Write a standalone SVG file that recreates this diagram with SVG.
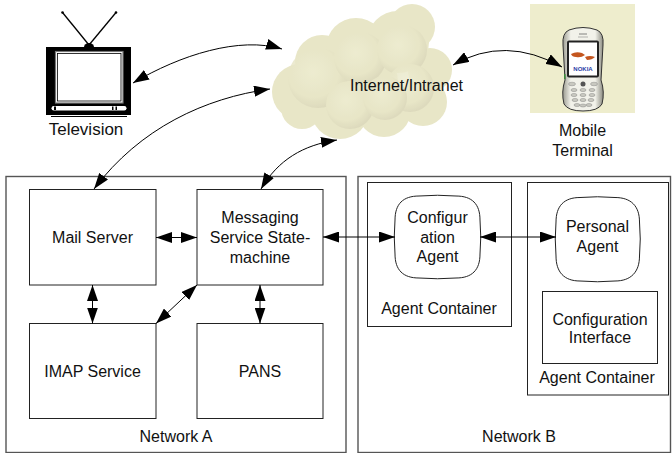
<svg xmlns="http://www.w3.org/2000/svg" width="672" height="453" viewBox="0 0 672 453">
  <style>
    .lbl { font-family: "Liberation Sans", Arial, sans-serif; font-size: 16px; fill: #111; text-anchor: middle; }
    .box { fill: #fff; stroke: #222; stroke-width: 1; }
    .net { fill: #fff; stroke: #555; stroke-width: 1.4; }
    .conn { fill: none; stroke: #000; stroke-width: 1; marker-start: url(#ah); marker-end: url(#ah); }
    .base { fill: #E8E6C7; }
    .puff { fill: url(#puffGrad); }
  </style>
  <defs>
    <marker id="ah" viewBox="0 0 16 11" refX="16" refY="5.5" markerWidth="16" markerHeight="11" markerUnits="userSpaceOnUse" orient="auto-start-reverse">
      <path d="M0,0 L16,5.5 L0,11 Z" fill="#000"/>
    </marker>
    <radialGradient id="puffGrad" cx="0.42" cy="0.4" r="0.6">
      <stop offset="0" stop-color="#EEEDD2" stop-opacity="1"/>
      <stop offset="0.7" stop-color="#E8E6C7" stop-opacity="1"/>
      <stop offset="1" stop-color="#DCD9BC" stop-opacity="1"/>
    </radialGradient>
    <linearGradient id="phoneBody" x1="0" y1="0" x2="1" y2="0">
      <stop offset="0" stop-color="#9a9a90"/>
      <stop offset="0.2" stop-color="#f2f2ea"/>
      <stop offset="0.8" stop-color="#f2f2ea"/>
      <stop offset="1" stop-color="#8a8a80"/>
    </linearGradient>
  </defs>

  <!-- network containers -->
  <g id="network-a">
    <rect class="net" x="6" y="176.5" width="340" height="276"/>
    <text class="lbl" x="176" y="441.5">Network A</text>
  </g>
  <g id="network-b">
    <rect class="net" x="358" y="176.5" width="312.5" height="276"/>
    <text class="lbl" x="519" y="441.5">Network B</text>
  </g>

  <!-- television -->
  <g id="television">
    <line x1="62.5" y1="12.5" x2="89" y2="45" stroke="#000" stroke-width="1.3"/>
    <line x1="116" y1="12.5" x2="89" y2="45" stroke="#000" stroke-width="1.3"/>
    <circle cx="62.5" cy="12.5" r="1.3" fill="#000"/>
    <circle cx="116" cy="12.5" r="1.3" fill="#000"/>
    <path d="M84,47 A5,4 0 0 1 94,47 Z" fill="#000"/>
    <rect x="46" y="47" width="85" height="68" fill="#000"/>
    <rect x="55.5" y="51.5" width="67.5" height="51.5" fill="#fff" stroke="#777" stroke-width="1.2"/>
    <rect x="57.5" y="53.5" width="63.5" height="47.5" fill="#fff" stroke="#000" stroke-width="0.8"/>
    <rect x="51.5" y="106" width="75" height="4.5" rx="2.2" fill="#fff"/>
    <rect x="54" y="106.5" width="2" height="3.5" fill="#000"/>
    <rect x="112" y="106.5" width="1.5" height="3.5" fill="#000"/>
    <rect x="115.5" y="106.5" width="1.5" height="3.5" fill="#000"/>
    <line x1="51" y1="116.5" x2="127" y2="116.5" stroke="#000" stroke-width="1"/>
    <text class="lbl" x="86" y="135" style="font-size:17px">Television</text>
  </g>

  <!-- cloud: flat silhouette with softly shaded puffs on top -->
  <g id="internet">
    <g class="base">
      <circle cx="300" cy="92" r="28"/>
      <circle cx="322" cy="62" r="27"/>
      <circle cx="356" cy="48" r="30"/>
      <circle cx="398" cy="42" r="31"/>
      <circle cx="412" cy="27" r="23"/>
      <circle cx="430" cy="70" r="22"/>
      <circle cx="423" cy="102" r="24"/>
      <circle cx="384" cy="110" r="27"/>
      <circle cx="340" cy="110" r="29"/>
      <circle cx="302" cy="108" r="21"/>
      <circle cx="362" cy="82" r="36"/>
    </g>
    <g class="puff" opacity="0.85">
      <circle cx="318" cy="78" r="30"/>
      <circle cx="360" cy="58" r="26"/>
      <circle cx="402" cy="50" r="25"/>
      <circle cx="410" cy="88" r="24"/>
      <circle cx="350" cy="105" r="24"/>
      <circle cx="385" cy="98" r="22"/>
    </g>
    <text class="lbl" x="406.5" y="90.5">Internet/Intranet</text>
  </g>

  <!-- mobile terminal -->
  <g id="mobile-terminal">
    <rect x="530" y="4" width="105" height="109" fill="#EEEDCD"/>
    <path d="M569,30 Q583,25 597,30 Q604,33 603,45 L601,80 Q605,92 602,104 Q598,111 583,111 Q568,111 564,104 Q561,92 565,80 L563,45 Q562,33 569,30 Z" fill="url(#phoneBody)" stroke="#333" stroke-width="1"/>
    <line x1="579" y1="34" x2="587" y2="34" stroke="#666" stroke-width="0.8"/>
    <line x1="578" y1="37" x2="588" y2="37" stroke="#888" stroke-width="0.6"/>
    <rect x="567" y="40.5" width="32" height="37" rx="2" fill="#222"/>
    <rect x="569" y="42.5" width="28" height="33" fill="#fff"/>
    <path d="M571,54 Q576,51 582,53 L585,55 Q581,58 576,57 Q572,57 571,54 Z" fill="#C4561F"/>
    <path d="M585,57 Q590,55 595,57 Q592,60 587,60 Z" fill="#C4561F"/>
    <text x="583" y="71" style="font-family:'Liberation Sans',Arial,sans-serif;font-size:6px;font-weight:bold;fill:#2B3DA8;text-anchor:middle">NOKIA</text>
    <circle cx="583" cy="84" r="2.5" fill="#555"/>
    <g fill="#c8c8c0" stroke="#777" stroke-width="0.4">
      <ellipse cx="572" cy="84" rx="3.5" ry="1.8"/>
      <ellipse cx="594" cy="84" rx="3.5" ry="1.8"/>
      <ellipse cx="574" cy="90" rx="3" ry="1.6"/>
      <ellipse cx="583" cy="90" rx="3" ry="1.6"/>
      <ellipse cx="592" cy="90" rx="3" ry="1.6"/>
      <ellipse cx="574" cy="95" rx="3" ry="1.6"/>
      <ellipse cx="583" cy="95" rx="3" ry="1.6"/>
      <ellipse cx="592" cy="95" rx="3" ry="1.6"/>
      <ellipse cx="575" cy="100" rx="3" ry="1.6"/>
      <ellipse cx="583" cy="100" rx="3" ry="1.6"/>
      <ellipse cx="591" cy="100" rx="3" ry="1.6"/>
      <ellipse cx="577" cy="105" rx="3" ry="1.5"/>
      <ellipse cx="583" cy="105.5" rx="3" ry="1.5"/>
      <ellipse cx="589" cy="105" rx="3" ry="1.5"/>
    </g>
    <rect x="564" y="74" width="1.5" height="5" fill="#3a8a3a"/>
    <text class="lbl" x="582.5" y="136">Mobile</text>
    <text class="lbl" x="582.5" y="156">Terminal</text>
  </g>

  <!-- network A components -->
  <g id="mail-server">
    <rect class="box" x="29.5" y="189.5" width="126.5" height="95.5"/>
    <text class="lbl" x="92.5" y="242.5">Mail Server</text>
  </g>
  <g id="messaging-state-machine">
    <rect class="box" x="197" y="189.5" width="126" height="95.5"/>
    <text class="lbl" x="260" y="223">Messaging</text>
    <text class="lbl" x="260" y="243">Service State-</text>
    <text class="lbl" x="260" y="262.5">machine</text>
  </g>
  <g id="imap-service">
    <rect class="box" x="29.5" y="323.5" width="126.5" height="95"/>
    <text class="lbl" x="92.5" y="376.5">IMAP Service</text>
  </g>
  <g id="pans">
    <rect class="box" x="197" y="323.5" width="126" height="95"/>
    <text class="lbl" x="260" y="376.5">PANS</text>
  </g>

  <!-- network B components -->
  <g id="agent-container-1">
    <rect class="box" x="367.5" y="182.5" width="144" height="144"/>
    <text class="lbl" x="439" y="314">Agent Container</text>
  </g>
  <g id="configuration-agent">
    <path class="box" d="M419,196 Q437.5,194.5 456,196 C472,196 480,204 480,220 Q481.5,237 480,254 C480,270 472,278 456,278 Q437.5,279.5 419,278 C403,278 395,270 395,254 Q393.5,237 395,220 C395,204 403,196 419,196 Z"/>
    <text class="lbl" x="437.5" y="223">Configur</text>
    <text class="lbl" x="437.5" y="242.5">ation</text>
    <text class="lbl" x="437.5" y="262">Agent</text>
  </g>
  <g id="agent-container-2">
    <rect class="box" x="527.5" y="182.5" width="141" height="212.5"/>
    <text class="lbl" x="597" y="382.5">Agent Container</text>
  </g>
  <g id="personal-agent">
    <path class="box" d="M580,197.5 Q597.5,196 615,197.5 C631,197.5 639.5,206 639.5,222 Q641,239 639.5,256 C639.5,272 631,281 615,281 Q597.5,282.5 580,281 C564,281 556,272 556,256 Q554.5,239 556,222 C556,206 564,197.5 580,197.5 Z"/>
    <text class="lbl" x="597.5" y="232">Personal</text>
    <text class="lbl" x="597.5" y="251.5">Agent</text>
  </g>
  <g id="configuration-interface">
    <rect class="box" x="542.5" y="291.5" width="115" height="72"/>
    <text class="lbl" x="600" y="324.5">Configuration</text>
    <text class="lbl" x="600" y="343">Interface</text>
  </g>

  <!-- connectors -->
  <g id="connectors">
    <path class="conn" d="M133,83 C180,55 240,36 282,49"/>
    <path class="conn" d="M94,189 C140,128 205,98 270,89"/>
    <path class="conn" d="M261,189 C278,160 303,145 337,140"/>
    <path class="conn" d="M453,65 Q505,35 562,67"/>
    <path class="conn" d="M156,237.5 H197"/>
    <path class="conn" d="M92.5,285 V323.5"/>
    <path class="conn" d="M197,285 L156,323.5"/>
    <path class="conn" d="M260,285 V323.5"/>
    <path class="conn" d="M323,237 H395"/>
    <path class="conn" d="M480,237 H556"/>
  </g>
</svg>
